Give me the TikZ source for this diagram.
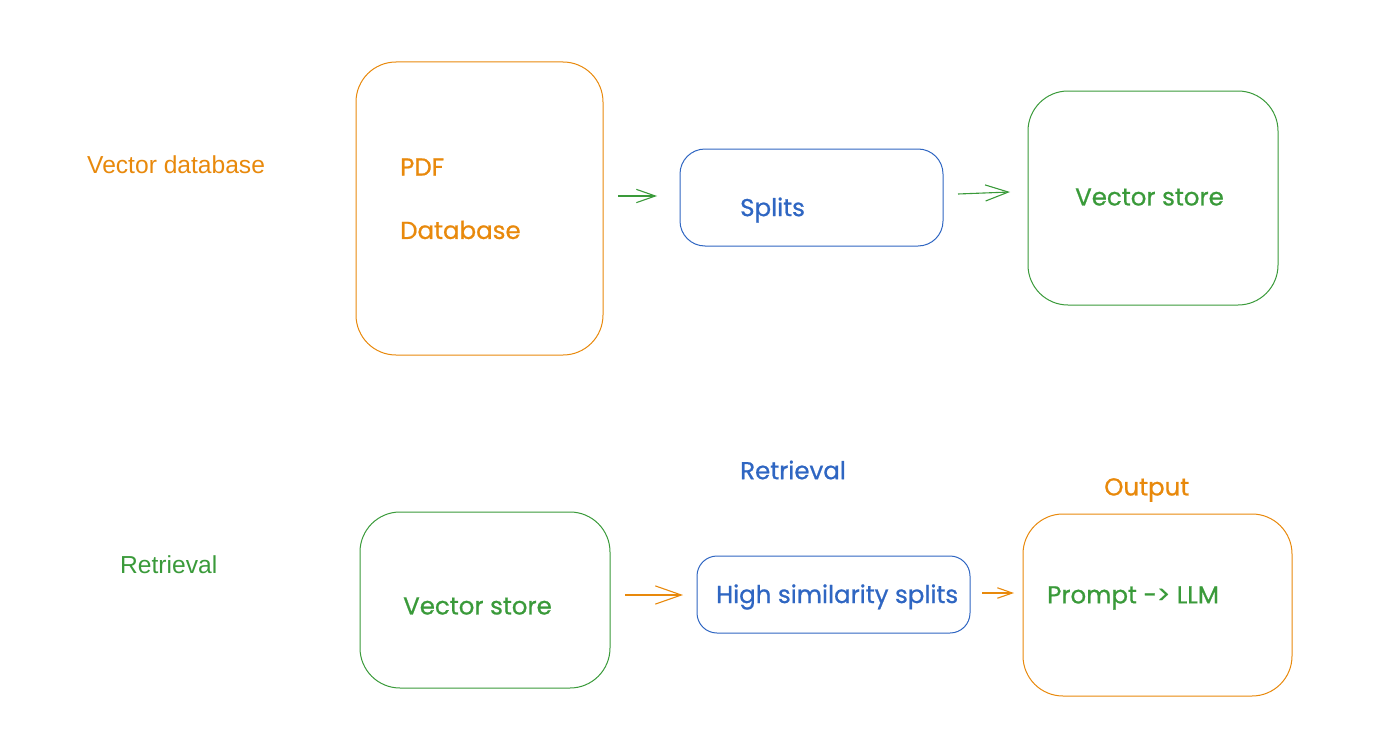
\documentclass[tikz,border=0pt]{standalone}
\usepackage{fontspec}
\setmainfont{Liberation Sans}
\newfontfamily\handfont[FakeBold=0.8]{Poppins}
\usetikzlibrary{arrows.meta}
\definecolor{cor}{HTML}{E8890C}
\definecolor{cgr}{HTML}{3A9A3A}
\definecolor{cbl}{HTML}{2F66C2}
\tikzset{
  box/.style={draw, line width=1pt, rounded corners=#1, inner sep=0pt},
  box/.default=40pt,
  hand/.style={font=\handfont\fontsize{24.5}{28}\selectfont, anchor=west, inner sep=0pt},
  plain/.style={font=\fontsize{24.6}{28}\selectfont, anchor=west, inner sep=0pt},
  arr/.style={line width=1.1pt, -{Straight Barb[length=#1pt, width=0.7*#1pt]}},
}
\begin{document}
\begin{tikzpicture}[x=1pt,y=-1pt]
\useasboundingbox (0,0) rectangle (1386,752);
% top row
\node[plain, text=cor] (lab1) at (87,165) {Vector database};
\node[box, draw=cor, minimum width=247pt, minimum height=293pt] (b1) at (479.5,208.5) {};
\node[hand, text=cor] (pdf) at (400,167) {PDF};
\node[hand, text=cor] (db) at (400,230) {Database};
\node[box=25pt, draw=cbl, minimum width=263pt, minimum height=97pt] (b2) at (811.5,197.5) {};
\node[hand, text=cbl] (spl) at (740,210) {Splits};
\node[box, draw=cgr, minimum width=250pt, minimum height=214pt] (b3) at (1153,198) {};
\node[hand, text=cgr] (vs1) at (1075,197) {Vector store};
\coordinate (a1s) at (618,196); \coordinate (a1e) at (657,196);
\coordinate (a2s) at (958,194); \coordinate (a2e) at (1010,192);
\draw[arr=19, cgr] (a1s) -- (a1e);
\draw[arr=23, cgr] (a2s) -- (a2e);
% bottom row
\node[hand, text=cbl] (ret2) at (740,470) {Retrieval};
\node[hand, text=cor] (out) at (1104,490) {Output};
\node[plain, text=cgr] (lab2) at (120,565) {Retrieval};
\node[box, draw=cgr, minimum width=250pt, minimum height=176pt] (b4) at (485,600) {};
\node[hand, text=cgr] (vs2) at (403,606) {Vector store};
\node[box=20pt, draw=cbl, minimum width=273pt, minimum height=77pt] (b5) at (833.5,594.5) {};
\node[hand, text=cbl] (hss) at (716,597) {High similarity splits};
\node[box, draw=cor, minimum width=269pt, minimum height=182pt] (b6) at (1157.5,605) {};
\node[hand, text=cgr] (pl) at (1047,598) {Prompt -> LLM};
\coordinate (a3s) at (625,595); \coordinate (a3e) at (683,595);
\coordinate (a4s) at (982,593); \coordinate (a4e) at (1014,593);
\draw[arr=26, cor] (a3s) -- (a3e);
\draw[arr=15, cor] (a4s) -- (a4e);
\end{tikzpicture}
\end{document}
